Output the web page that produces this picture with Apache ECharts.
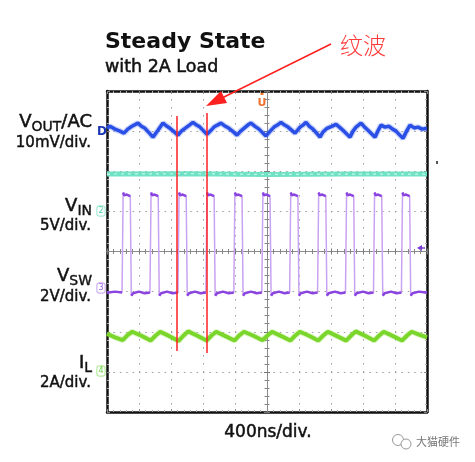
<!DOCTYPE html>
<html><head><meta charset="utf-8">
<script src="https://cdn.jsdelivr.net/npm/echarts@6/dist/echarts.min.js"></script>
<style>html,body{margin:0;padding:0;background:#fff}#c{width:475px;height:462px}</style>
</head><body><div id="c"></div>
<script>
// ---- data: time in ns (centre = 0), level in divisions ----
const vswTrace = [
 [-2000,-1.03],[-1900,-1.0],[-1812,-1.02],[-1798,1.47],[-1786,1.40],[-1754,1.42],[-1709,1.38],[-1696,-1.1],[-1674,-1.04],[-1600,-1.0],[-1530,-1.04],
 [-1463,-1.02],[-1449,1.47],[-1437,1.40],[-1405,1.42],[-1360,1.38],[-1347,-1.1],[-1325,-1.04],[-1250,-1.0],[-1180,-1.04],
 [-1113,-1.02],[-1099,1.47],[-1087,1.40],[-1055,1.42],[-1010,1.38],[-997,-1.1],[-975,-1.04],[-900,-1.0],[-830,-1.04],
 [-764,-1.02],[-750,1.47],[-738,1.40],[-706,1.42],[-661,1.38],[-648,-1.1],[-626,-1.04],[-550,-1.0],[-480,-1.04],
 [-415,-1.02],[-401,1.47],[-389,1.40],[-357,1.42],[-312,1.38],[-299,-1.1],[-277,-1.04],[-200,-1.0],[-130,-1.04],
 [-65,-1.02],[-51,1.47],[-39,1.40],[-7,1.42],[38,1.38],[51,-1.1],[73,-1.04],[150,-1.0],[220,-1.04],
 [283,-1.02],[297,1.47],[309,1.40],[341,1.42],[386,1.38],[399,-1.1],[421,-1.04],[500,-1.0],[570,-1.04],
 [632,-1.02],[646,1.47],[658,1.40],[690,1.42],[735,1.38],[748,-1.1],[770,-1.04],[850,-1.0],[920,-1.04],
 [981,-1.02],[995,1.47],[1007,1.40],[1039,1.42],[1084,1.38],[1097,-1.1],[1119,-1.04],[1200,-1.0],[1270,-1.04],
 [1331,-1.02],[1345,1.47],[1357,1.40],[1389,1.42],[1434,1.38],[1447,-1.1],[1469,-1.04],[1550,-1.0],[1620,-1.04],
 [1680,-1.02],[1694,1.47],[1706,1.40],[1738,1.42],[1783,1.38],[1796,-1.1],[1818,-1.04],[1900,-1.0],[2000,-1.03]
];
const voutTrace = [
 [-2000,3.07],[-1963,3.12],[-1900,3.05],[-1838,3.0],[-1788,2.95],[-1740,3.05],[-1688,3.12],[-1613,3.2],[-1570,3.12],[-1525,3.07],[-1470,2.95],[-1425,2.85],
 [-1363,3.02],[-1300,3.2],[-1250,3.12],[-1213,3.07],[-1160,2.98],[-1113,2.9],[-1070,3.0],[-1025,3.07],[-970,3.15],[-925,3.22],[-880,3.15],[-838,3.1],[-790,3.0],[-750,2.92],
 [-700,3.02],[-663,3.1],[-620,3.15],[-575,3.2],[-520,3.12],[-475,3.07],[-420,2.98],[-375,2.9],[-330,3.0],[-288,3.07],[-240,3.15],[-200,3.2],[-150,3.12],[-100,3.05],[-50,2.95],[-13,2.88],
 [40,3.0],[88,3.1],[130,3.15],[175,3.22],[220,3.15],[263,3.1],[310,3.02],[350,2.95],[380,3.02],[413,3.1],[450,3.15],[488,3.22],[530,3.12],[575,3.05],[620,2.95],[663,2.85],
 [700,2.98],[750,3.07],[810,3.12],[863,3.17],[905,3.1],[950,3.02],[1000,2.92],[1038,2.85],[1075,3.0],[1113,3.1],[1145,3.15],[1175,3.2],[1220,3.1],[1263,3.02],[1310,2.93],[1350,2.85],
 [1390,3.02],[1425,3.15],[1475,3.1],[1525,3.12],[1570,3.05],[1613,3.0],[1660,2.9],[1700,2.82],[1745,3.0],[1788,3.15],[1840,3.08],[1888,3.1],[1940,3.05],[2000,3.07]
];
const vinTrace = [[-2000,1.93],[-1000,1.94],[0,1.92],[1000,1.93],[2000,1.93]];
const ilTrace = [
 [-2000,-2.05],[-1900,-2.14],[-1804,-2.21],[-1740,-2.08],[-1684,-2.0],[-1570,-2.1],[-1455,-2.22],[-1395,-2.1],[-1335,-2.0],[-1220,-2.11],
 [-1105,-2.23],[-1045,-2.1],[-985,-1.99],[-870,-2.1],[-756,-2.22],[-696,-2.1],[-636,-2.0],[-520,-2.11],[-407,-2.22],[-347,-2.09],[-287,-2.0],[-170,-2.1],
 [-57,-2.21],[3,-2.1],[63,-2.0],[180,-2.11],[291,-2.22],[351,-2.1],[411,-2.0],[525,-2.1],[640,-2.22],[700,-2.1],[760,-2.0],[875,-2.11],
 [989,-2.22],[1049,-2.1],[1109,-1.99],[1225,-2.1],[1339,-2.22],[1399,-2.1],[1459,-2.0],[1575,-2.11],[1688,-2.22],[1748,-2.1],[1808,-2.0],[1900,-2.07],[2000,-2.14]
];
const titleText = 'Steady State';
const subtitleText = 'with 2A Load';
const channelNames = [['V','OUT','/AC'],['V','IN',''],['V','SW',''],['I','L','']];
const channelScales = ['10mV/div.','5V/div.','2V/div.','2A/div.'];
const channelTags = ['D','2','3','4'];
const timeScale = '400ns/div.';
const annotation = '纹波';
const watermark = '大猫硬件';

// ---- chart ----
const chart = echarts.init(document.getElementById('c'));
// overlay of the flat (dense) parts of VSW: break at fast edges
const vswFlat = [];
vswTrace.forEach((p, i) => {
  if (i > 0 && Math.abs(p[1] - vswTrace[i-1][1]) > 1) vswFlat.push([(p[0] + vswTrace[i-1][0]) / 2, '-']);
  vswFlat.push(p);
});

const F = 'DejaVu Sans, Verdana, sans-serif';
const INK = '#111';
const frame = {show:true, onZero:false, lineStyle:{color:'#111', width:2.5}};
const frameTick = {show:true, inside:true, length:3, lineStyle:{color:'#888'}};
const frameMinor = {show:true, splitNumber:5, length:2, lineStyle:{color:'#aaa'}};
const centreLine = {show:true, onZero:true, onZeroAxisIndex:0, lineStyle:{color:'#8a8a8a', width:1}};
const centreTick = {show:true, inside:false, length:3, lineStyle:{color:'#777'}};
const centreMinor = {show:true, splitNumber:5, length:2.5, lineStyle:{color:'#888'}};
const xBase = {type:'value', min:-2000, max:2000, interval:400, axisLabel:{show:false}, splitLine:{show:false}};
const yBase = {type:'value', min:-4, max:4, interval:1, axisLabel:{show:false}, splitLine:{show:false}};

const chanLabelY = [[122,143],[206,226],[276,297],[363,383]];
const tagY = [132,211,288,371];
const tagColor = [['#1d36b5',null],['#4fcfa9','#a8ecd8'],['#9a5fe6','#cfb3f5'],['#6ad040','#b6ec9c']];

const graphics = [];
graphics.push({type:'text', x:105, y:42, style:{text:titleText, fontFamily:F, fontSize:22, fontWeight:'bold', fill:INK, align:'left', verticalAlign:'middle'}});
graphics.push({type:'text', x:105, y:67, style:{text:subtitleText, fontFamily:F, fontSize:17.5, fill:INK, stroke:INK, lineWidth:0.5, align:'left', verticalAlign:'middle'}});
channelNames.forEach((n, i) => {
  graphics.push({type:'text', x:92, y:chanLabelY[i][0], style:{
    text:'{v|' + n[0] + '}{s|' + n[1] + '}' + (n[2] ? '{v|' + n[2] + '}' : ''),
    align:'right', verticalAlign:'middle',
    rich:{v:{fontFamily:F, fontSize:18, fill:INK, stroke:INK, lineWidth:0.5}, s:{fontFamily:F, fontSize:14, fill:INK, stroke:INK, lineWidth:0.4, padding:[11,0,0,0]}}
  }});
  graphics.push({type:'text', x:91, y:chanLabelY[i][1], style:{text:channelScales[i], fontFamily:F, fontSize:15, fill:INK, stroke:INK, lineWidth:0.45, align:'right', verticalAlign:'middle'}});
  const c = tagColor[i];
  if (i === 0) {
    graphics.push({type:'text', x:102, y:tagY[i], style:{text:channelTags[i], fontFamily:F, fontSize:12, fontWeight:'bold', fill:c[0], align:'center', verticalAlign:'middle'}});
  } else {
    graphics.push({type:'text', x:101, y:tagY[i], style:{text:channelTags[i], fontFamily:F, fontSize:8, fill:c[0], align:'center', verticalAlign:'middle', borderColor:c[1], borderWidth:1.2, borderRadius:2, padding:[1,1,0,1], backgroundColor:'#fff'}});
  }
});
graphics.push({type:'text', x:268, y:433, style:{text:timeScale, fontFamily:F, fontSize:17, fill:INK, stroke:INK, lineWidth:0.5, align:'center', verticalAlign:'middle'}});
// trigger marker
graphics.push({type:'rect', shape:{x:260.5, y:91, width:3, height:4}, style:{fill:'#f07a2a'}});
graphics.push({type:'text', x:262, y:103, style:{text:'U', fontFamily:F, fontSize:11, fontWeight:'bold', fill:'#f0702a', align:'center', verticalAlign:'middle'}});
// right-side markers
graphics.push({type:'polygon', shape:{points:[[417,248],[422,245],[422,251]]}, style:{fill:'#7a3ad8'}});
graphics.push({type:'line', shape:{x1:421, y1:248, x2:425, y2:248}, style:{stroke:'#7a3ad8', lineWidth:1.5}});
graphics.push({type:'rect', shape:{x:436, y:161, width:2, height:3}, style:{fill:'#555'}});
// red annotation lines
graphics.push({type:'line', z:100, shape:{x1:177, y1:116, x2:177, y2:351}, style:{stroke:'#ff2020', lineWidth:1.5}});
graphics.push({type:'line', z:100, shape:{x1:207, y1:113, x2:207, y2:353}, style:{stroke:'#ff2020', lineWidth:1.5}});
graphics.push({type:'line', z:100, shape:{x1:331, y1:44, x2:222, y2:98}, style:{stroke:'#ff2020', lineWidth:1.5}});
graphics.push({type:'polygon', z:100, shape:{points:[[206,106],[227,103],[221,91]]}, style:{fill:'#ff2020'}});
graphics.push({type:'text', z:100, x:340, y:45, style:{text:annotation, fontFamily:'Noto Sans CJK SC', fontSize:23, fontWeight:300, fill:'#ff3a3a', align:'left', verticalAlign:'middle'}});
// watermark
graphics.push({type:'circle', shape:{cx:398, cy:440, r:5.5}, style:{fill:'#fff', stroke:'#999', lineWidth:1}});
graphics.push({type:'circle', shape:{cx:406, cy:444, r:5}, style:{fill:'#fff', stroke:'#999', lineWidth:1}});
graphics.push({type:'text', x:416, y:442, style:{text:watermark, fontFamily:'Noto Sans CJK SC', fontSize:11, fill:'#777', align:'left', verticalAlign:'middle'}});

chart.setOption({
  animation:false,
  backgroundColor:'#fff',
  grid:{left:107, top:91, width:320, height:321, show:false},
  xAxis:[
    Object.assign({}, xBase, {position:'bottom', axisLine:frame, axisTick:frameTick, minorTick:frameMinor,
      splitLine:{show:true, lineStyle:{color:'#9c9c9c', width:1, type:[1.5,6.5]}}}),
    Object.assign({}, xBase, {position:'top', axisLine:frame, axisTick:frameTick, minorTick:frameMinor}),
    Object.assign({}, xBase, {position:'bottom', axisLine:centreLine, axisTick:centreTick, minorTick:centreMinor}),
    Object.assign({}, xBase, {position:'top', axisLine:centreLine, axisTick:centreTick, minorTick:centreMinor})
  ],
  yAxis:[
    Object.assign({}, yBase, {position:'left', axisLine:frame, axisTick:frameTick, minorTick:frameMinor,
      splitLine:{show:true, lineStyle:{color:'#9c9c9c', width:1, type:[1.5,4.9]}}}),
    Object.assign({}, yBase, {position:'right', axisLine:frame, axisTick:frameTick, minorTick:frameMinor}),
    Object.assign({}, yBase, {position:'left', axisLine:centreLine, axisTick:centreTick, minorTick:centreMinor}),
    Object.assign({}, yBase, {position:'right', axisLine:centreLine, axisTick:centreTick, minorTick:centreMinor})
  ],
  series:[
    {name:'VIN', type:'line', data:vinTrace, showSymbol:false, silent:true, z:3, lineStyle:{color:'#6fe2c5', width:5}},
    {name:'VIN dash', type:'line', data:vinTrace, showSymbol:false, silent:true, z:4, lineStyle:{color:'#c6f5e8', width:1.2, type:[3,4]}},
    {name:'VOUT halo', type:'line', data:voutTrace, showSymbol:false, silent:true, z:3, lineStyle:{color:'#3a60f0', width:6, opacity:0.25}},
    {name:'VOUT', type:'line', data:voutTrace, showSymbol:false, silent:true, z:4, lineStyle:{color:'#2a4fe6', width:3.5}},
    {name:'VSW', type:'line', data:vswTrace, showSymbol:false, silent:true, z:3, lineStyle:{color:'#c9a2f3', width:1.5}},
    {name:'VSW flat', type:'line', data:vswFlat, showSymbol:false, silent:true, z:4, connectNulls:false, lineStyle:{color:'#8a45e0', width:2.5}},
    {name:'IL halo', type:'line', data:ilTrace, showSymbol:false, silent:true, z:3, lineStyle:{color:'#8fe040', width:6, opacity:0.25}},
    {name:'IL', type:'line', data:ilTrace, showSymbol:false, silent:true, z:4, lineStyle:{color:'#7ad62a', width:4}}
  ],
  graphic:{elements:graphics}
});
</script>
</body></html>
